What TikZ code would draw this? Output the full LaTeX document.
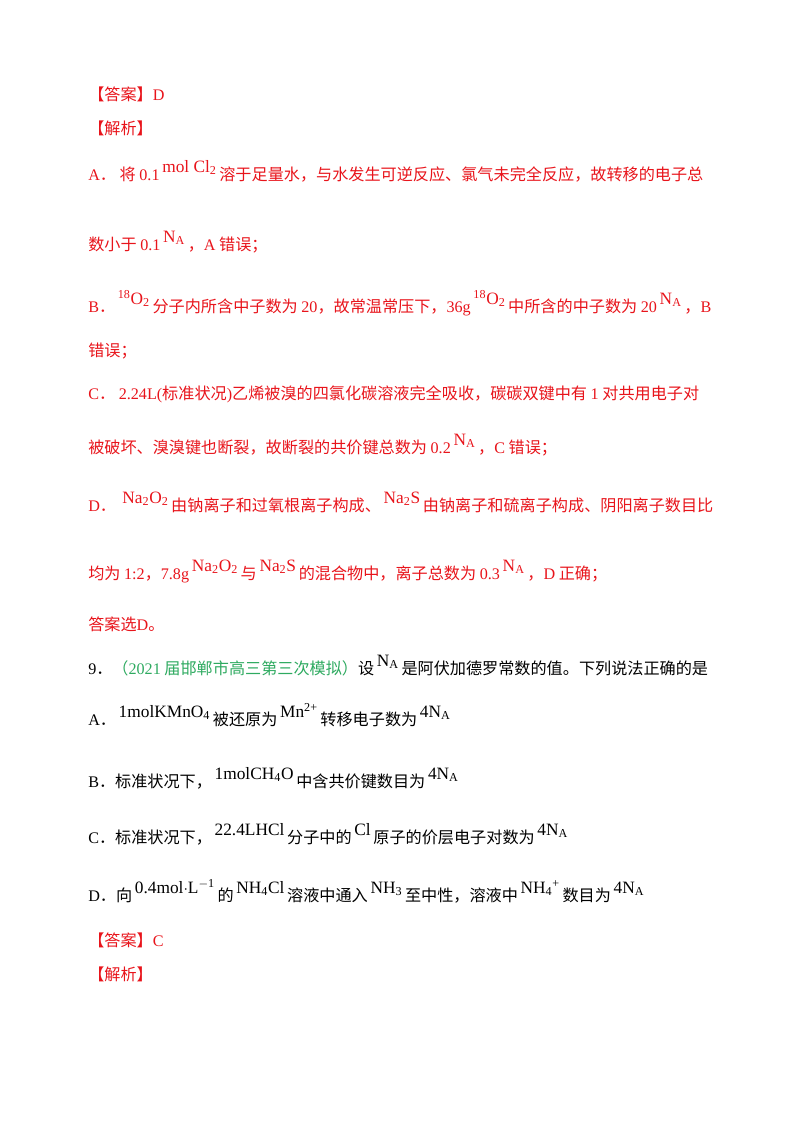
\documentclass[tikz,border=0pt]{standalone}
\usepackage{fontspec}
\setmainfont{Noto Sans CJK SC}
\newfontfamily\lat{Liberation Serif}
\definecolor{rd}{HTML}{E8141B}
\definecolor{gr}{HTML}{2EAA60}
\newcommand{\fm}[1]{\,\raisebox{6pt}{\lat\fontsize{13}{14}\selectfont #1}\,}
\newcommand{\tl}[1]{{\lat #1}}
\newcommand{\NA}{\fm{N\textsubscript{A}}}
\begin{document}
\begin{tikzpicture}[x=0.75pt,y=-0.75pt,
 ln/.style={anchor=base west,inner sep=0pt,font=\fontsize{12.1}{14}\selectfont},
 r/.style={ln,text=rd}]
\useasboundingbox (0,0) rectangle (800,1129);
\node[r] (l1) at (88,100) {【答案】\tl{D}};
\node[r] (l2) at (88,134) {【解析】};
\node[r] (l3) at (88,180) {\tl{A}．\ 将 \tl{0.1}\fm{mol Cl\textsubscript{2}}溶于足量水，与水发生可逆反应、氯气未完全反应，故转移的电子总};
\node[r] (l4) at (88,250) {数小于 \tl{0.1}\NA，\tl{A} 错误；};
\node[r] (l5) at (88,312) {\tl{B}．\fm{\textsuperscript{18}O\textsubscript{2}}分子内所含中子数为 \tl{20}，故常温常压下，\tl{36g}\fm{\textsuperscript{18}O\textsubscript{2}}中所含的中子数为 \tl{20}\NA，\tl{B}};
\node[r] (l6) at (88,356) {错误；};
\node[r] (l7) at (88,399) {\tl{C}．\ \tl{2.24L(}标准状况\tl{)}乙烯被溴的四氯化碳溶液完全吸收，碳碳双键中有 \tl{1} 对共用电子对};
\node[r] (l8) at (88,453) {被破坏、溴溴键也断裂，故断裂的共价键总数为 \tl{0.2}\NA，\tl{C} 错误；};
\node[r] (l9) at (88,511) {\tl{D}．\ \fm{Na\textsubscript{2}O\textsubscript{2}}由钠离子和过氧根离子构成、\fm{Na\textsubscript{2}S}由钠离子和硫离子构成、阴阳离子数目比};
\node[r] (l10) at (88,579) {均为 \tl{1:2}，\tl{7.8g}\fm{Na\textsubscript{2}O\textsubscript{2}}与\fm{Na\textsubscript{2}S}的混合物中，离子总数为 \tl{0.3}\NA，\tl{D} 正确；};
\node[r] (l11) at (88,630) {答案选\tl{D}。};
\node[ln] (l12) at (88,674) {\tl{9}．{\color{gr}（\tl{2021} 届邯郸市高三第三次模拟）}设\NA 是阿伏加德罗常数的值。下列说法正确的是};
\node[ln] (l13) at (88,725) {\tl{A}．\fm{1molKMnO\textsubscript{4}}被还原为\fm{Mn\textsuperscript{2+}}转移电子数为\fm{4N\textsubscript{A}}};
\node[ln] (l14) at (88,787) {\tl{B}．标准状况下，\fm{1molCH\textsubscript{4}O}中含共价键数目为\fm{4N\textsubscript{A}}};
\node[ln] (l15) at (88,843) {\tl{C}．标准状况下，\fm{22.4LHCl}分子中的\fm{Cl}原子的价层电子对数为\fm{4N\textsubscript{A}}};
\node[ln] (l16) at (88,901) {\tl{D}．向\fm{0.4mol$\cdot$L\textsuperscript{$-$1}}的\fm{NH\textsubscript{4}Cl}溶液中通入\fm{NH\textsubscript{3}}至中性，溶液中\fm{NH\textsubscript{4}\textsuperscript{+}}数目为\fm{4N\textsubscript{A}}};
\node[r] (l17) at (88,946) {【答案】\tl{C}};
\node[r] (l18) at (88,980) {【解析】};
\end{tikzpicture}
\end{document}
